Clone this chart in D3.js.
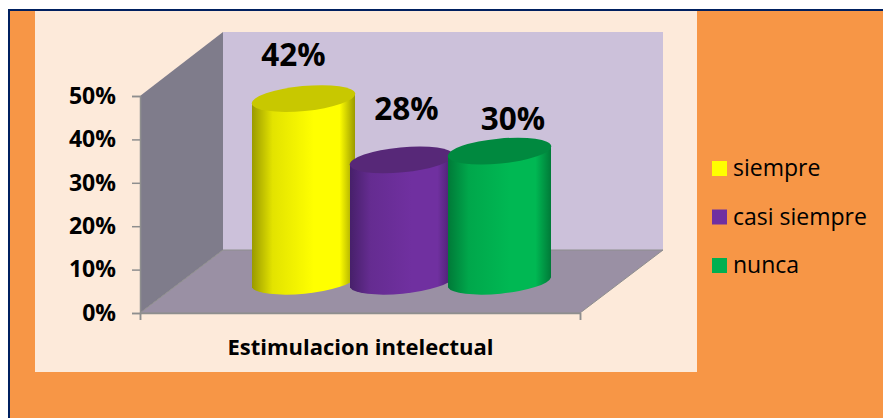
<!DOCTYPE html>
<html><head><meta charset="utf-8">
<script src="https://cdnjs.cloudflare.com/ajax/libs/d3/7.8.5/d3.min.js"></script>
<style>html,body{margin:0;padding:0;background:#fff}svg{display:block}text{font-family:"Open Sans",sans-serif;fill:#000}</style>
</head><body><svg id="c" width="883" height="418"></svg>
<script>
const categories = ["siempre","casi siempre","nunca"];
const values = [42,28,30];
const valueLabels = ["42%","28%","30%"];
const ticks = [0,10,20,30,40,50];
const axisTitle = "Estimulacion intelectual";
const baseColors = ["#FFFF00","#7030A0","#00B853"];
const edgeColors = ["#9A9A00","#47206A","#007A38"];
const capColors = ["#C8C800","#572878","#00893F"];

const svg = d3.select("#c");
const defs = svg.append("defs");
// background
svg.append("rect").attr("x",8).attr("y",9).attr("width",875).attr("height",409).attr("fill","#002060");
svg.append("rect").attr("x",10).attr("y",11).attr("width",873).attr("height",407).attr("fill","#F79646");
svg.append("rect").attr("x",35).attr("y",11).attr("width",662).attr("height",361).attr("fill","#FDEADA");

// 3D frame
const y = d3.scaleLinear().domain([0,50]).range([313,96]);
const x0=140, x1=580, dx=83, dy=-63;
const poly = pts => d3.line()(pts);
svg.append("path").attr("d",poly([[x0+dx,y(50)+dy-1],[x1+dx,y(50)+dy-1],[x1+dx,y(0)+dy],[x0+dx,y(0)+dy]])+"Z").attr("fill","#CCC1DA");
svg.append("path").attr("d",poly([[x0,y(50)],[x0+dx,y(50)+dy-1],[x0+dx,y(0)+dy],[x0,y(0)]])+"Z").attr("fill","#7F7C8B");
svg.append("path").attr("d",poly([[x0,y(0)],[x0+dx,y(0)+dy],[x1+dx,y(0)+dy],[x1,y(0)]])+"Z").attr("fill","#9A90A4")
  .attr("stroke","#8E8E8E").attr("stroke-width",1);

// axes
const yAxis = d3.axisLeft(y).tickValues(ticks).tickFormat(d=>d+"%").tickSize(8).tickPadding(16);
const gy = svg.append("g").attr("transform",`translate(${x0},0)`).call(yAxis);
gy.select(".domain").attr("stroke","#8E8E8E").attr("stroke-width",1.5);
gy.selectAll("line").attr("stroke","#8E8E8E").attr("stroke-width",1.5);
gy.selectAll("text").attr("font-size",23).attr("font-weight",700).style("font-family","'Open Sans',sans-serif");

const xAxisScale = d3.scaleLinear().domain([0,1]).range([x0,x1]);
const gx = svg.append("g").attr("transform",`translate(0,${y(0)})`)
  .call(d3.axisBottom(xAxisScale).tickValues([0,1]).tickFormat("").tickSize(7));
gx.selectAll("path,line").attr("stroke","#8E8E8E").attr("stroke-width",1.5);
svg.append("text").attr("x",360.5).attr("y",355).attr("text-anchor","middle")
  .attr("font-size",22).attr("font-weight",700).text(axisTitle);

// cylinders
const cx = d3.scalePoint().domain(categories).range([303.5,499.5]);
const h = d3.scaleLinear().domain([0,50]).range([0,219]);
const baseY = 282.5, rx=52, ry=12.5, rot=-5.5, ox=51.5, oy=5;
categories.forEach((c,i)=>{
  const g = defs.append("linearGradient").attr("id","g"+i);
  [[0,edgeColors[i]],[0.2,d3.interpolateRgb(edgeColors[i],baseColors[i])(0.72)],[0.6,baseColors[i]],[0.85,baseColors[i]],[1,edgeColors[i]]]
    .forEach(s=>g.append("stop").attr("offset",s[0]).attr("stop-color",s[1]));
});
const bars = svg.append("g").selectAll("g").data(categories).join("g");
bars.append("path")
  .attr("d",(c,i)=>{
    const m=cx(c), t=baseY-h(values[i]);
    return `M${m-ox},${t+oy}L${m-ox},${baseY+oy}A${rx},${ry} ${rot} 0 0 ${m+ox},${baseY-oy}L${m+ox},${t-oy}Z`;
  })
  .attr("fill",(c,i)=>`url(#g${i})`);
bars.append("ellipse")
  .attr("cx",0).attr("cy",0).attr("rx",rx).attr("ry",ry)
  .attr("transform",(c,i)=>`translate(${cx(c)},${baseY-h(values[i])}) rotate(${rot})`)
  .attr("fill",(c,i)=>capColors[i]);

// data labels (hand-placed offsets from the top of each cylinder)
const labelDx=[-10,5,13.5], labelDy=[-33,-40,-21];
svg.append("g").selectAll("text").data(categories).join("text")
  .attr("x",(c,i)=>cx(c)+labelDx[i]).attr("y",(c,i)=>baseY-h(values[i])+labelDy[i])
  .attr("text-anchor","middle").attr("font-size",31.5).attr("font-weight",700)
  .text((c,i)=>valueLabels[i]);

// legend
const ly = d3.scalePoint().domain(categories).range([168.5,265.5]);
const lg = svg.append("g").selectAll("g").data(categories).join("g");
lg.append("rect").attr("x",712).attr("y",c=>ly(c)-7.5).attr("width",15).attr("height",15).attr("fill",(c,i)=>baseColors[i]==="#00B853"?"#00B050":baseColors[i]);
lg.append("text").attr("x",733).attr("y",c=>ly(c)+7.5).attr("font-size",23).text(c=>c);
</script></body></html>
